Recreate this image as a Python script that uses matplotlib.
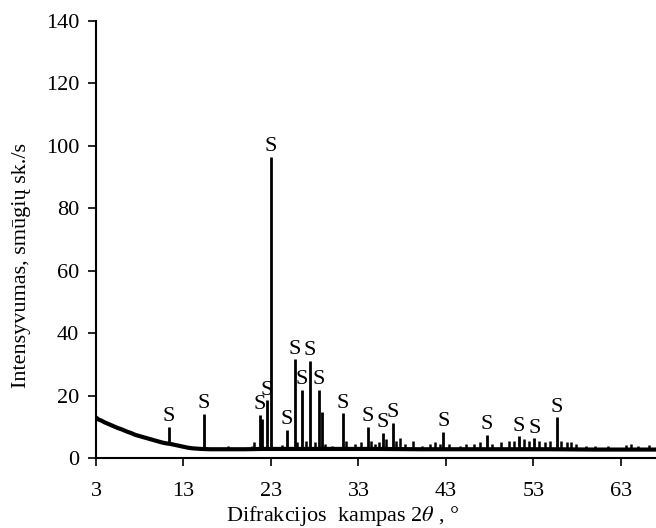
import matplotlib
matplotlib.use("Agg")
import matplotlib.pyplot as plt

# Background (baseline) trace
base_x = [3.0, 3.3, 3.6, 4.0, 4.5, 5.0, 5.5, 6.0, 6.5, 7.0, 7.5, 8.0, 8.5, 9.0, 9.5,
          10.0, 10.5, 11.0, 11.5, 12.0, 12.5, 13.0, 13.5, 14.0, 14.5, 15.0, 16.0,
          17.0, 18.0, 20.0, 22.0, 25.0, 30.0, 35.0, 40.0, 45.0, 50.0, 55.0, 60.0,
          65.0, 67.0]
base_y = [13.0, 12.3, 12.0, 11.4, 10.8, 10.2, 9.6, 9.1, 8.5, 8.0, 7.4, 7.0, 6.6, 6.2, 5.8,
          5.4, 5.0, 4.7, 4.5, 4.2, 3.9, 3.6, 3.3, 3.1, 3.0, 2.9, 2.8,
          2.8, 2.8, 2.8, 2.9, 2.9, 2.9, 2.9, 2.8, 2.8, 2.8, 2.8, 2.7,
          2.7, 2.7]

# Main diffraction peaks: position (2theta), top intensity, foot intensity
peak_pos = [11.3, 15.3, 21.75, 21.95, 22.5, 23.0, 24.8, 25.7, 26.5, 27.45, 28.5, 28.8,
            31.25, 34.05, 35.8, 36.9, 42.7, 47.7, 51.3, 53.1, 55.7]
peak_top = [10.0, 14.2, 13.8, 12.5, 18.5, 96.5, 9.0, 31.6, 21.8, 31.2, 21.8, 14.8,
            14.3, 10.0, 8.1, 11.3, 8.4, 7.4, 7.0, 6.3, 13.0]
peak_foot = [4.7, 3.0, 3.0, 3.0, 3.0, 3.0, 2.9, 2.9, 2.9, 2.9, 2.9, 2.9,
             2.9, 2.9, 2.9, 2.9, 2.8, 2.8, 2.8, 2.8, 2.8]

# Peaks marked with "S"
label_pos = [11.3, 15.3, 21.75, 22.5, 23.0, 24.8, 25.7, 26.5, 27.45, 28.5, 31.25,
             34.05, 35.8, 36.9, 42.7, 47.7, 51.3, 53.1, 55.7]
label_top = [10.0, 14.2, 13.8, 18.5, 96.5, 9.0, 31.6, 21.8, 31.2, 21.8, 14.3,
             10.0, 8.1, 11.3, 8.4, 7.4, 7.0, 6.3, 13.0]
label_text = "S"

# Minor reflections / noise bumps
minor_pos = [18.1, 20.8, 21.05, 24.3, 26.0, 27.0, 28.0, 29.2, 30.0, 31.6, 32.6, 33.3,
             34.4, 34.9, 35.4, 36.2, 37.3, 37.7, 38.3, 39.2, 40.3, 41.2, 41.8, 42.3,
             43.4, 44.6, 45.3, 46.2, 46.9, 48.3, 49.3, 50.2, 50.8, 51.9, 52.5, 53.6,
             54.3, 54.9, 56.2, 56.8, 57.3, 57.9, 59.0, 60.0, 61.5, 63.6, 64.2, 65.0, 66.2]
minor_top = [3.8, 4.0, 5.2, 4.2, 5.0, 5.5, 5.0, 4.5, 3.8, 5.5, 4.5, 5.0,
             5.5, 4.5, 5.0, 6.0, 5.5, 6.4, 4.5, 5.5, 4.0, 4.5, 5.0, 4.5,
             4.5, 4.0, 4.5, 4.5, 5.0, 4.5, 5.0, 5.5, 5.5, 6.0, 5.5, 5.5,
             5.0, 5.5, 5.5, 5.0, 5.2, 4.5, 3.8, 4.0, 3.8, 4.2, 4.5, 3.8, 4.2]

x_ticks = [3, 13, 23, 33, 43, 53, 63]
y_ticks = [0, 20, 40, 60, 80, 100, 120, 140]

plt.rcParams['font.family'] = ['Liberation Serif', 'DejaVu Serif']
plt.rcParams['mathtext.fontset'] = 'stix'

fig = plt.figure(figsize=(6.56, 5.28), dpi=100)
ax = fig.add_axes([0.1463, 0.1326, 1.0 - 0.1463, 0.9602 - 0.1326])

ax.plot(base_x, base_y, color='black', lw=3.0, solid_joinstyle='round')
ax.vlines(peak_pos, peak_foot, peak_top, color='black', lw=2.0)
ax.vlines(minor_pos, [2.5] * len(minor_pos), minor_top, color='black', lw=1.8)

for xp, yt in zip(label_pos, label_top):
    ax.annotate(label_text, (xp, yt), xytext=(0, 4), textcoords='offset points',
                ha='center', va='baseline', fontsize=16)

ax.set_xlim(3, 67)
ax.set_ylim(0, 140)
ax.set_xticks(x_ticks)
ax.set_yticks(y_ticks)
ax.tick_params(axis='both', labelsize=16, direction='out', length=6, width=1.2)
ax.tick_params(axis='x', pad=11)
ax.tick_params(axis='y', pad=6)
for s in ['top', 'right']:
    ax.spines[s].set_visible(False)
for s in ['left', 'bottom']:
    ax.spines[s].set_linewidth(1.5)

ax.set_xlabel(r'Difrakcijos  kampas 2$\theta$ , °', fontsize=16, labelpad=0)
ax.xaxis.set_label_coords(0.44, -0.105)
ax.set_ylabel('Intensyvumas, smūgių sk./s', fontsize=16)
ax.yaxis.set_label_coords(-0.116, 0.44)

fig.savefig('out.png', dpi=100)
